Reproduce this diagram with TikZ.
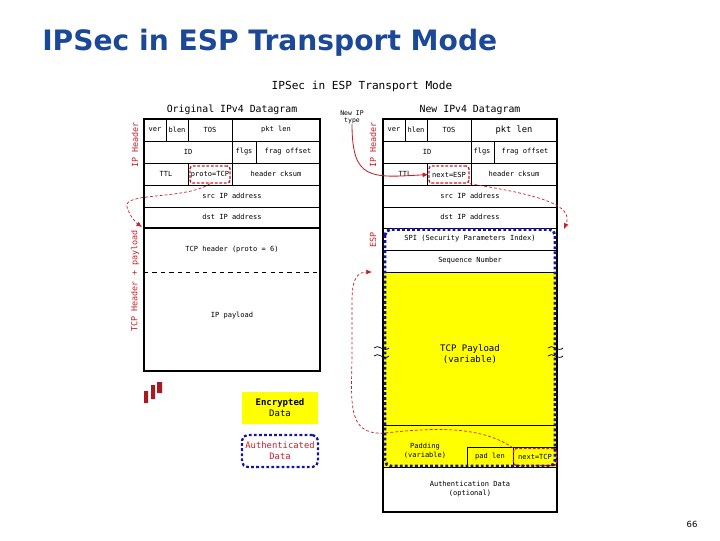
\documentclass[tikz,border=0pt]{standalone}
\usepackage{fontspec}
\setmainfont{DejaVu Sans}
\setmonofont{DejaVu Sans Mono}
\usetikzlibrary{arrows.meta}

\definecolor{titleblue}{RGB}{28,72,152}
\definecolor{espred}{RGB}{200,30,40}
\definecolor{authblue}{RGB}{20,20,160}
\definecolor{encyellow}{RGB}{255,255,0}

\tikzset{
  fld/.style={font=\ttfamily\fontsize{5}{6}\selectfont, inner sep=0pt, align=center},
  bigfld/.style={font=\ttfamily\fontsize{6.4}{7.8}\selectfont, inner sep=0pt, align=center},
  heading/.style={font=\ttfamily\fontsize{7}{8}\selectfont, inner sep=0pt},
  sidelbl/.style={font=\ttfamily\fontsize{6}{7}\selectfont, text=espred, rotate=90, inner sep=0pt},
  boxline/.style={line width=1.3pt},
  cellline/.style={line width=0.6pt},
  hilite/.style={draw=espred, dash pattern=on 2pt off 1.2pt, line width=1pt, rounded corners=2pt,
    minimum width=1cm, minimum height=0.425cm},
  pointer/.style={espred, dash pattern=on 2pt off 1.5pt, line width=0.5pt, -{Latex[length=4pt,width=3.5pt]}},
  authline/.style={authblue, dash pattern=on 2pt off 1.6pt, line width=2pt, rounded corners=4pt},
}

\begin{document}
\begin{tikzpicture}[x=0.025cm, y=-0.025cm]
  \useasboundingbox (0,0) rectangle (720,540);

  % titles
  \node[anchor=west, inner sep=0pt, text=titleblue, font=\fontsize{20}{24}\selectfont\bfseries] (title) at (42,43) {IPSec in ESP Transport Mode};
  \node[font=\ttfamily\fontsize{7.9}{9}\selectfont, inner sep=0pt] (subtitle) at (362,86) {IPSec in ESP Transport Mode};
  \node[heading] (orighead) at (232,110) {Original IPv4 Datagram};
  \node[heading] (newhead) at (470,110) {New IPv4 Datagram};

  % original datagram
  \foreach \y in {141,163,185,207} \draw[cellline] (144,\y) -- (320,\y);
  \draw[boxline] (144,228) -- (320,228);
  \draw[dashed, line width=0.6pt] (144,272) -- (320,272);
  \draw[cellline] (166,119) -- (166,141) (188,119) -- (188,141) (232,119) -- (232,163)
    (256,141) -- (256,163) (188,163) -- (188,185) (232,163) -- (232,185);
  \draw[boxline] (144,119) rectangle (320,371);

  \node[fld] (over) at (155,130) {ver};
  \node[fld] (ohlen) at (177,130) {blen};
  \node[fld] (otos) at (210,130) {TOS};
  \node[fld] (olen) at (276,130) {pkt len};
  \node[fld] (oid) at (188,152) {ID};
  \node[fld] (oflgs) at (244,152) {flgs};
  \node[fld] (ofrag) at (288,152) {frag offset};
  \node[fld] (ottl) at (166,174) {TTL};
  \node[fld, hilite] (protoTCP) at (210,174.5) {proto=TCP};
  \node[fld] (ocksum) at (276,174) {header cksum};
  \node[fld] (osrc) at (232,196) {src IP address};
  \node[fld] (odst) at (232,217) {dst IP address};
  \node[fld] (otcp) at (232,250) {TCP header (proto = 6)};
  \node[fld] (oload) at (232,316) {IP payload};

  % new datagram
  \fill[encyellow] (383,272) rectangle (557,467);
  \foreach \y in {141,163,185,207,228,250,272} \draw[cellline] (383,\y) -- (557,\y);
  \draw[cellline] (383,425) -- (557,425);
  \draw[cellline] (383,467) -- (557,467);
  \draw[cellline] (405,119) -- (405,141) (427,119) -- (427,141) (471,119) -- (471,163)
    (494,141) -- (494,163) (427,163) -- (427,185) (471,163) -- (471,185);
  \draw[cellline] (467,467) -- (467,447) -- (557,447) (513,447) -- (513,467);
  \draw[boxline] (383,119) rectangle (557,512);

  \node[fld] (nver) at (394,130) {ver};
  \node[fld] (nhlen) at (416,130) {hlen};
  \node[fld] (ntos) at (449,130) {TOS};
  \node[font=\ttfamily\fontsize{6.2}{7}\selectfont, inner sep=0pt] (nlen) at (514,130) {pkt len};
  \node[fld] (nid) at (427,152) {ID};
  \node[fld] (nflgs) at (482,152) {flgs};
  \node[fld] (nfrag) at (525,152) {frag offset};
  \node[fld] (nttl) at (405,174) {TTL};
  \node[fld, hilite] (nextESP) at (449,174.5) {next=ESP};
  \node[fld] (ncksum) at (514,174) {header cksum};
  \node[fld] (nsrc) at (470,196) {src IP address};
  \node[fld] (ndst) at (470,217) {dst IP address};
  \node[fld] (spi) at (470,239) {SPI (Security Parameters Index)};
  \node[fld] (seqno) at (470,261) {Sequence Number};
  \node[bigfld] (payload) at (470,354) {TCP Payload\\(variable)};
  \node[fld] (padding) at (425,451) {Padding\\(variable)};
  \node[fld] (padlen) at (490,457) {pad len};
  \node[fld, hilite, minimum width=1.075cm] (nextTCP) at (535,457) {next=TCP};
  \node[fld] (authdata) at (470,489) {Authentication Data\\(optional)};

  \draw[authline] (385,229.5) rectangle (555,466);

  % break marks
  \foreach \bx in {383,557}
    \foreach \dy in {-4,4}
      \draw[line width=0.5pt] (\bx-9,352+\dy) .. controls (\bx-5,347+\dy) and (\bx+1,357+\dy) .. (\bx+6,352+\dy);

  % side labels
  \node[sidelbl] (oiphdr) at (135,145) {IP Header};
  \node[sidelbl] (otcplbl) at (135,281) {TCP Header + payload};
  \node[sidelbl] (niphdr) at (373,145) {IP Header};
  \node[sidelbl] (esplbl) at (373,240) {ESP};
  \node[fld, font=\ttfamily\fontsize{4.6}{5.2}\selectfont] (newip) at (352,117) {New IP\\type};

  % pointers
  \coordinate (tcpstart) at (142,227);
  \coordinate (espstart) at (564,229);
  \coordinate (padleft) at (385,433);
  \coordinate (loadstart) at (372,272);
  \draw[espred, line width=0.6pt, -{Latex[length=4pt,width=3.5pt]}] (newip.south) .. controls (352,180) and (370,178) .. (nextESP.west);
  \draw[pointer] (protoTCP.south) .. controls (185,200) and (122,192) .. (127,207) .. controls (130,216) and (135,222) .. (tcpstart);
  \draw[pointer] (nextESP.south east) .. controls (540,195) and (574,205) .. (espstart);
  \draw[pointer] (nextTCP.north west) .. controls (480,425) and (430,428) .. (padleft)
    .. controls (345,436) and (352,400) .. (352,350) -- (352,300) .. controls (352,275) and (360,272) .. (loadstart);

  % legend
  \fill[espred!85!black] (144,391) rectangle (148,403) (151,385) rectangle (155,399) (157,382) rectangle (162,393);
  \node[fill=encyellow, minimum width=1.9cm, minimum height=0.8cm, inner sep=0pt, align=center,
    font=\ttfamily\fontsize{6.4}{8}\selectfont] (encr) at (280,408) {\textbf{Encrypted}\\Data};
  \node[authline, draw, minimum width=1.9cm, minimum height=0.8cm, inner sep=0pt, align=center,
    text=espred, font=\ttfamily\fontsize{6.3}{8}\selectfont, line width=1.6pt] (authkey) at (280,451) {Authenticated\\Data};

  \node[font=\fontsize{6}{7}\selectfont, inner sep=0pt] (pageno) at (692,524) {66};
\end{tikzpicture}
\end{document}
